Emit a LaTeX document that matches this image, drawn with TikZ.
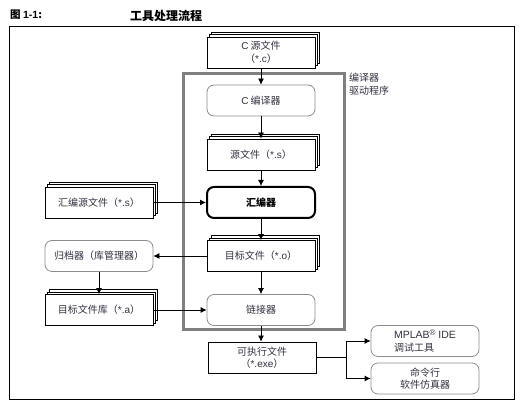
\documentclass[tikz,border=0pt]{standalone}
\usepackage{fontspec}
\setmainfont{Noto Sans CJK SC}
\newfontfamily\latin{Liberation Sans}
\usetikzlibrary{arrows.meta,shadows}
\definecolor{txtgray}{RGB}{50,50,65}
\definecolor{boxgray}{RGB}{140,140,140}
\definecolor{drvgray}{RGB}{128,128,128}

\begin{document}
\begin{tikzpicture}[x=1pt,y=1pt,
  font=\fontsize{10}{12.5}\selectfont,
  every node/.style={text=txtgray,inner sep=0pt},
  filebox/.style={draw,line width=0.8pt,fill=white,minimum width=108pt,minimum height=31pt,align=center},
  stackbox/.style={filebox,
    copy shadow={shadow xshift=4pt,shadow yshift=5pt},
    copy shadow={shadow xshift=2pt,shadow yshift=2.5pt}},
  toolbox/.style={draw=boxgray,line width=0.8pt,fill=white,rounded corners=7pt,minimum width=108pt,minimum height=31pt,align=center},
  flow/.style={line width=0.8pt,-{Latex[length=6pt,width=6pt]}},
]
\useasboundingbox (0,0) rectangle (522,406);

% title and frame
\node (fig) at (10,391) [anchor=west,text=black,font=\fontsize{10.5}{12}\selectfont\bfseries] {图 {\latin 1-1}:};
\node (title) at (130,390) [anchor=west,text=black,font=\fontsize{12}{14}\selectfont\bfseries] {工具处理流程};
\draw [line width=0.9pt] (9,380) rectangle (514,7);

% compiler driver
\draw [drvgray,line width=3pt] (183,332) rectangle (344,76);
\node (drv) at (349,333) [anchor=north west,align=left,font=\fontsize{10}{13}\selectfont] {编译器\\驱动程序};

% main column
\node (csrc) at (261,353.5) [stackbox] {{\latin C} 源文件\\（{\latin *.c}）};
\node (ccomp) at (261,305.5) [toolbox] {{\latin C} 编译器};
\node (asmout) at (261,251.5) [stackbox] {源文件（{\latin *.s}）};
\node (asm) at (261,203.5) [toolbox,draw=black,line width=2pt,font=\fontsize{10}{12}\selectfont\bfseries,text=black] {汇编器};
\node (obj) at (261,150) [stackbox] {目标文件（{\latin *.o}）};
\node (linker) at (261,96) [toolbox] {链接器};
\node (exe) at (262,48.5) [filebox] {可执行文件\\（{\latin *.exe}）};

% left column
\node (asmsrc) at (99,203.5) [stackbox] {汇编源文件（{\latin *.s}）};
\node (archiver) at (99,150) [toolbox] {归档器（库管理器）};
\node (lib) at (99,96) [stackbox] {目标文件库（{\latin *.a}）};

% debug tools
\node (mplab) at (425,65) [toolbox,align=left] {{\latin\fontsize{10.5}{12.5}\selectfont MPLAB\raisebox{3.5pt}{\fontsize{8}{8}\selectfont\textregistered} IDE}\\调试工具};
\node (sim) at (425,27.5) [toolbox] {命令行\\软件仿真器};

\draw [flow] (csrc) -- (ccomp);
\draw [flow] (ccomp) -- (asmout);
\draw [flow] (asmout) -- (asm);
\draw [flow] (asm) -- (obj);
\draw [flow] (obj) -- (linker);
\draw [flow] (linker) -- (linker |- exe.north);
\draw [flow] (asmsrc) -- (asm);
\draw [flow] (obj) -- (archiver);
\draw [flow] (archiver) -- (lib);
\draw [flow] (lib) -- (linker);
\coordinate (split) at (346,48.5);
\draw [line width=0.8pt] (exe) -- (split);
\draw [flow] (split) |- (mplab);
\draw [flow] (split) |- (sim);
\end{tikzpicture}
\end{document}
